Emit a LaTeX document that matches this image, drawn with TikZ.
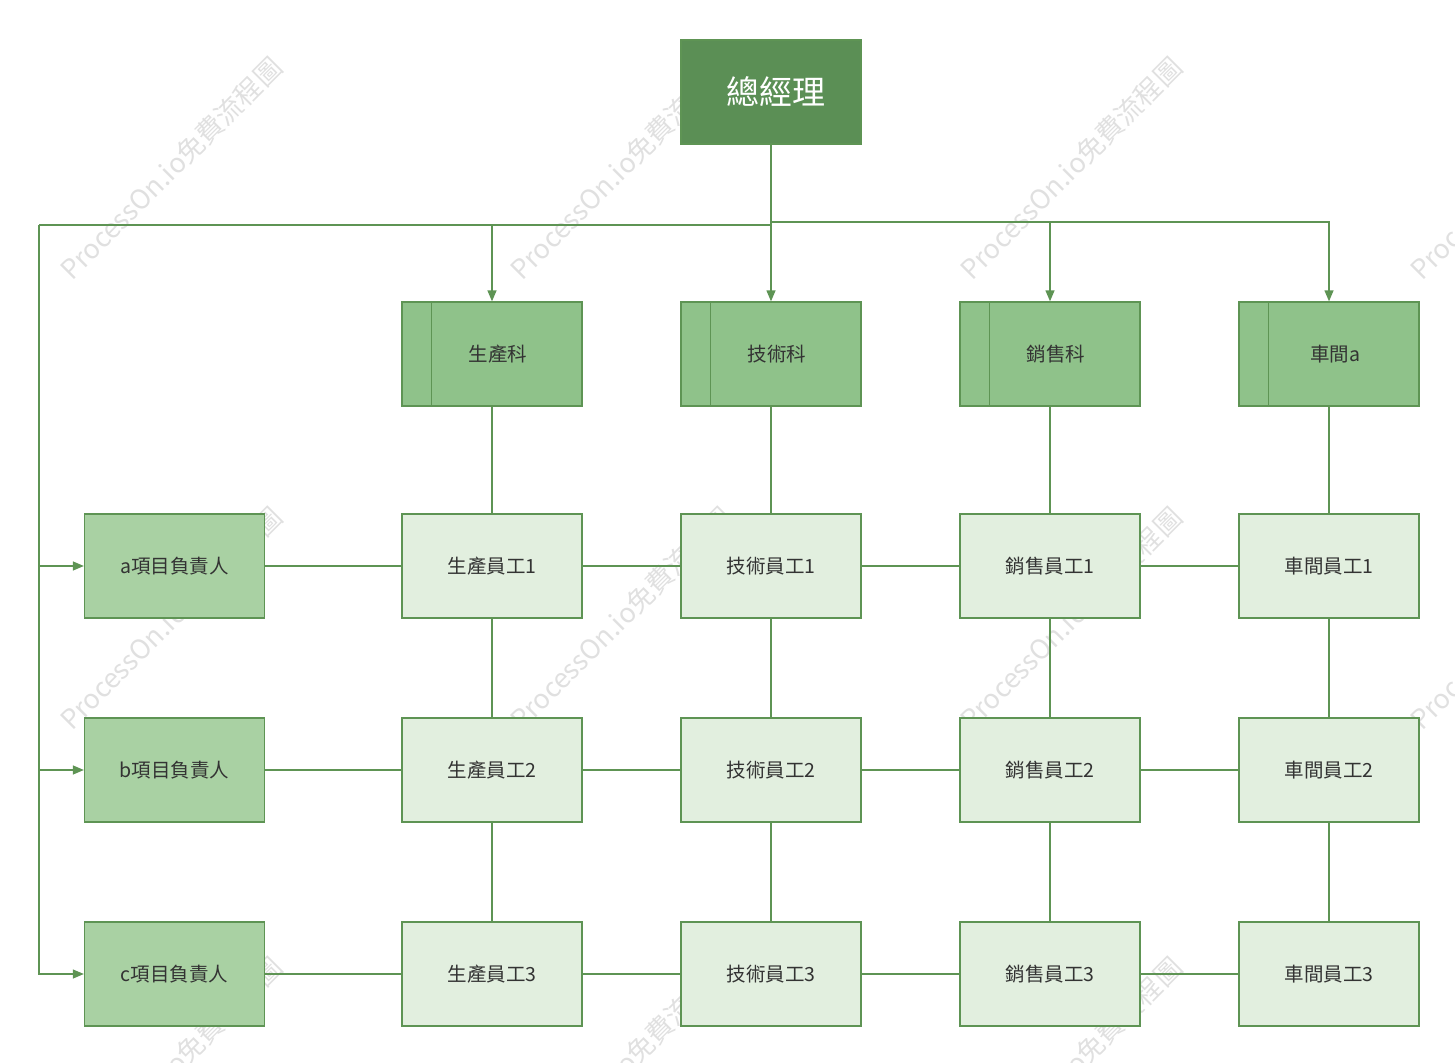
\documentclass[tikz,border=0pt]{standalone}
\usepackage{fontspec}
\setmainfont{Noto Sans CJK TC}
\usetikzlibrary{arrows.meta}
\definecolor{gmfill}{HTML}{5B8F55}
\definecolor{deptfill}{HTML}{8FC28A}
\definecolor{leadfill}{HTML}{A9D1A3}
\definecolor{empfill}{HTML}{E2EFDF}
\definecolor{edge}{HTML}{5E9454}
\definecolor{txt}{HTML}{333333}
\definecolor{wmc}{HTML}{E0E0E0}
\begin{document}
\begin{tikzpicture}[x=1pt,y=-1pt,
  box/.style={draw=edge,line width=1.3pt,minimum width=180pt,minimum height=104pt,inner sep=0pt,text=txt,font=\fontsize{19.5}{22}\selectfont},
  gmbox/.style={box,fill=gmfill},
  deptbox/.style={box,fill=deptfill},
  leadbox/.style={box,fill=leadfill},
  empbox/.style={box,fill=empfill},
  lbl/.style={text=txt,font=\fontsize{19.5}{22}\selectfont,inner sep=0pt},
  gmlbl/.style={text=white,font=\fontsize{33}{38}\selectfont,inner sep=0pt},
  conn/.style={draw=edge,line width=1.3pt},
  arr/.style={conn,-{Triangle[length=11pt,width=9pt]}},
  wm/.style={text=wmc,font=\fontsize{27}{30}\selectfont,rotate=45,anchor=base west,inner sep=0pt}
]
\useasboundingbox (0,0) rectangle (1455,1062);
% watermarks
\foreach \i/\x in {0/72,1/522,2/972,3/1422}{
  \foreach \j/\y in {0/282,1/732,2/1182}{
    \node[wm] (wm\i\j) at (\x,\y) {ProcessOn.io免費流程圖};
  }
}
% general manager
\node[gmbox] (gm) at (771,92) {};
\node[gmlbl] (gmt) at ([xshift=5pt]gm.center) {總經理};
% departments
\foreach \n/\x/\t in {d1/492/生產科,d2/771/技術科,d3/1050/銷售科,d4/1329/車間a}{
  \node[deptbox] (\n) at (\x,354) {};
  \draw[conn] ([xshift=30pt]\n.north west) -- ([xshift=30pt]\n.south west);
  \node[lbl] (\n t) at ([xshift=6pt]\n.center) {\t};
}
% leaders
\node[leadbox] (la) at (174.5,566) {a項目負責人};
\node[leadbox] (lb) at (174.5,770) {b項目負責人};
\node[leadbox] (lc) at (174.5,974) {c項目負責人};
% employees
\foreach \r/\y in {1/566,2/770,3/974}{
  \node[empbox] (e\r1) at (492,\y) {生產員工\r};
  \node[empbox] (e\r2) at (771,\y) {技術員工\r};
  \node[empbox] (e\r3) at (1050,\y) {銷售員工\r};
  \node[empbox] (e\r4) at (1329,\y) {車間員工\r};
}
% top connectors
\coordinate (jl) at (771,225);
\coordinate (jr) at (771,222);
\coordinate (lx) at (39,225);
\draw[arr] (gm.south) -- (d2.north);
\draw[arr] (jl) -| (d1.north);
\draw[arr] (jr) -| (d3.north);
\draw[arr] (jr) -| (d4.north);
\draw[conn] (jl) -- (lx);
\draw[arr] (lx) |- (la.west);
\draw[arr] (lx) |- (lb.west);
\draw[arr] (lx) |- (lc.west);
% vertical connectors
\foreach \c in {1,2,3,4}{
  \draw[conn] (d\c.south) -- (e1\c.north);
  \draw[conn] (e1\c.south) -- (e2\c.north);
  \draw[conn] (e2\c.south) -- (e3\c.north);
}
% horizontal connectors
\foreach \r/\l in {1/la,2/lb,3/lc}{
  \draw[conn] (\l.east) -- (e\r1.west);
  \draw[conn] (e\r1.east) -- (e\r2.west);
  \draw[conn] (e\r2.east) -- (e\r3.west);
  \draw[conn] (e\r3.east) -- (e\r4.west);
}
\end{tikzpicture}
\end{document}
